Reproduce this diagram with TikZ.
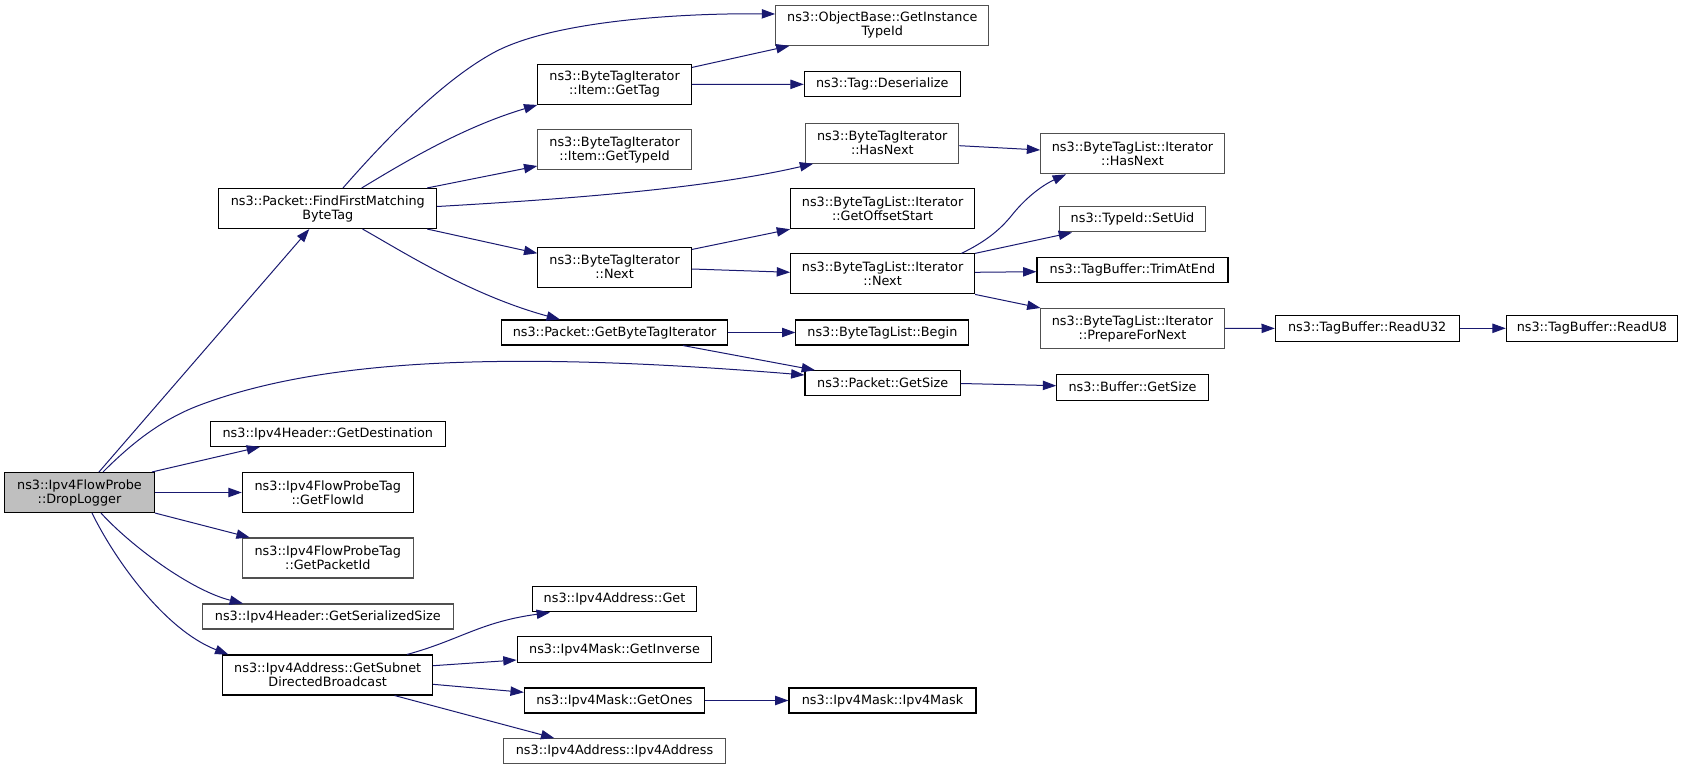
\documentclass[tikz,border=0pt]{standalone}
\usepackage{fontspec}
\setmainfont{DejaVu Sans}
\usetikzlibrary{arrows.meta,calc}
\definecolor{edgeblue}{HTML}{191970}
\definecolor{rootfill}{HTML}{BFBFBF}
\definecolor{greyborder}{HTML}{505050}
\begin{document}
\begin{tikzpicture}[x=0.75pt,y=-0.75pt,
  fn/.style={rectangle, draw=black, line width=0.8pt, fill=white, inner sep=0pt, align=center,
             font=\fontsize{9.6}{10.5}\selectfont},
  gb/.style={fn, draw=greyborder},
  root/.style={fn, fill=rootfill},
  sz/.style 2 args={minimum width=#1*0.75pt, minimum height=#2*0.75pt},
  call/.style={draw=edgeblue, line width=0.75pt, -{Triangle[length=10pt,width=7pt]}}]
\useasboundingbox (0,0) rectangle (1687,770);
% nodes
\node[root, sz={150}{40}] (dl) at (79.5,492.5) {ns3::Ipv4FlowProbe\\::DropLogger};
\node[fn, sz={217.7}{40}] (ffm) at (327.8,208.5) {ns3::Packet::FindFirstMatching\\ByteTag};
\node[gb, sz={213.3}{40}] (ob) at (882.3,25.3) {ns3::ObjectBase::GetInstance\\TypeId};
\node[fn, sz={153.5}{40}] (gt) at (614.6,84.4) {ns3::ByteTagIterator\\::Item::GetTag};
\node[fn, sz={156}{25.3}] (td) at (882.3,84.3) {ns3::Tag::Deserialize};
\node[gb, sz={153.5}{40}] (gti) at (614.6,149.7) {ns3::ByteTagIterator\\::Item::GetTypeId};
\node[gb, sz={153.2}{40}] (bhn) at (882.3,143.2) {ns3::ByteTagIterator\\::HasNext};
\node[fn, sz={184}{40}] (gos) at (882.6,208.7) {ns3::ByteTagList::Iterator\\::GetOffsetStart};
\node[fn, sz={153.5}{40}] (bn) at (614.6,267.3) {ns3::ByteTagIterator\\::Next};
\node[fn, sz={184}{40}] (ln) at (882.6,273.9) {ns3::ByteTagList::Iterator\\::Next};
\node[fn, sz={226.5}{25}] (gbti) at (614.6,332.5) {ns3::Packet::GetByteTagIterator};
\node[fn, sz={173}{25}] (beg) at (882.4,332.5) {ns3::ByteTagList::Begin};
\node[fn, sz={155.4}{25}] (pgs) at (882.7,383.2) {ns3::Packet::GetSize};
\node[gb, sz={183.6}{40}] (lhn) at (1132.5,153.8) {ns3::ByteTagList::Iterator\\::HasNext};
\node[gb, sz={146.5}{25.3}] (su) at (1132.5,219.3) {ns3::TypeId::SetUid};
\node[fn, sz={191}{25.3}] (tae) at (1132.5,269.7) {ns3::TagBuffer::TrimAtEnd};
\node[gb, sz={183.6}{40}] (pfn) at (1132.5,328.5) {ns3::ByteTagList::Iterator\\::PrepareForNext};
\node[fn, sz={183.7}{26}] (ru32) at (1367.2,328.3) {ns3::TagBuffer::ReadU32};
\node[fn, sz={171}{26}] (ru8) at (1591.8,328.3) {ns3::TagBuffer::ReadU8};
\node[fn, sz={151.6}{25.7}] (bgs) at (1132.5,387.2) {ns3::Buffer::GetSize};
\node[fn, sz={235}{25.3}] (gd) at (327.8,433.7) {ns3::Ipv4Header::GetDestination};
\node[fn, sz={171}{40}] (gfi) at (327.8,492.5) {ns3::Ipv4FlowProbeTag\\::GetFlowId};
\node[gb, sz={171}{40}] (gpi) at (327.8,558) {ns3::Ipv4FlowProbeTag\\::GetPacketId};
\node[gb, sz={250.7}{25}] (gss) at (327.8,616.5) {ns3::Ipv4Header::GetSerializedSize};
\node[fn, sz={209.6}{40}] (gsdb) at (327.7,675) {ns3::Ipv4Address::GetSubnet\\DirectedBroadcast};
\node[fn, sz={164}{25.3}] (iag) at (614.5,599.3) {ns3::Ipv4Address::Get};
\node[fn, sz={194.7}{26}] (imgi) at (614.5,649.7) {ns3::Ipv4Mask::GetInverse};
\node[fn, sz={180.3}{25}] (imgo) at (614.5,700.5) {ns3::Ipv4Mask::GetOnes};
\node[fn, sz={187}{25}] (imim) at (882.5,700.5) {ns3::Ipv4Mask::Ipv4Mask};
\node[gb, sz={221.8}{25.3}] (iaia) at (614.5,751.3) {ns3::Ipv4Address::Ipv4Address};
% edges from DropLogger
\draw[call] ($(dl.north)+(19.5,0)$) -- ($(ffm.south)+(-18.5,0)$);
\draw[call] ($(dl.north)+(23.5,0)$) .. controls (130,445) and (160,420) .. (200,405)
            .. controls (320,360) and (500,350) .. ($(pgs.west)+(0,-8.2)$);
\draw[call] ($(dl.north east)+(-3,0)$) -- ($(gd.south)+(-67.8,0)$);
\draw[call] (dl) -- (gfi);
\draw[call] (dl.south east) -- ($(gpi.north west)+(8,0)$);
\draw[call] ($(dl.south)+(21.5,0)$) .. controls (130,545) and (190,590) .. ($(gss.north)+(-84.8,0)$);
\draw[call] ($(dl.south)+(12.5,0)$) .. controls (115,560) and (165,630) .. ($(gsdb.north west)+(6,0)$);
% edges from FindFirstMatchingByteTag
\draw[call] ($(ffm.north)+(15.2,0)$) .. controls (388,136.5) and (443,80.5) .. (493,53)
            .. controls (553,20) and (686,13) .. ($(ob.west)+(0,-11.3)$);
\draw[call] ($(ffm.north)+(33.9,0)$) .. controls (400,165) and (460,128) .. (gt.south west);
\draw[call] ($(ffm.north east)+(-10,0)$) -- ($(gti.west)+(0,16.3)$);
\draw[call] ($(ffm.east)+(0,-2)$) .. controls (550,200) and (700,190) .. ($(bhn.south west)+(8,0)$);
\draw[call] ($(ffm.south east)+(-10,0)$) -- ($(bn.west)+(0,-14)$);
\draw[call] ($(ffm.south)+(34.7,0)$) .. controls (400,250) and (470,295) .. ($(gbti.north)+(-54.6,0)$);
% second level
\draw[call] ($(gt.north east)+(0,3.6)$) -- ($(ob.south west)+(14.4,0)$);
\draw[call] (gt) -- (td);
\draw[call] ($(bhn.east)+(0,2.5)$) -- ($(lhn.west)+(0,-3.8)$);
\draw[call] ($(bn.north east)+(0,2.7)$) -- (gos.south west);
\draw[call] ($(bn.east)+(0,1.7)$) -- ($(ln.west)+(0,-1.6)$);
\draw[call] ($(ln.north)+(78.8,0)$) .. controls (985,242) and (1000,230) .. (1012,215)
            .. controls (1028,195) and (1045,184) .. ($(lhn.south)+(-66.5,0)$);
\draw[call] (ln.north east) -- ($(su.south)+(-60.5,0)$);
\draw[call] ($(ln.east)+(0,-1.6)$) -- ($(tae.west)+(0,2)$);
\draw[call] (ln.south east) -- ($(pfn.north west)+(0.3,0)$);
\draw[call] (pfn) -- (ru32);
\draw[call] (ru32) -- (ru8);
\draw[call] (gbti) -- (beg);
\draw[call] ($(gbti.south)+(68.4,0)$) -- ($(pgs.north)+(-67.7,0)$);
\draw[call] ($(pgs.east)+(0,0.3)$) -- ($(bgs.west)+(0,-1.5)$);
% from GetSubnetDirectedBroadcast
\draw[call] ($(gsdb.north)+(79.3,0)$) .. controls (460,640) and (480,622) .. ($(iag.south west)+(18,0)$);
\draw[call] ($(gsdb.east)+(0,-9.3)$) -- ($(imgi.west)+(0,10.3)$);
\draw[call] ($(gsdb.east)+(0,9.3)$) -- ($(imgo.west)+(0,-8.2)$);
\draw[call] ($(gsdb.south)+(66.9,0)$) -- ($(iaia.north)+(-60.2,0)$);
\draw[call] (imgo) -- (imim);
\end{tikzpicture}
\end{document}
